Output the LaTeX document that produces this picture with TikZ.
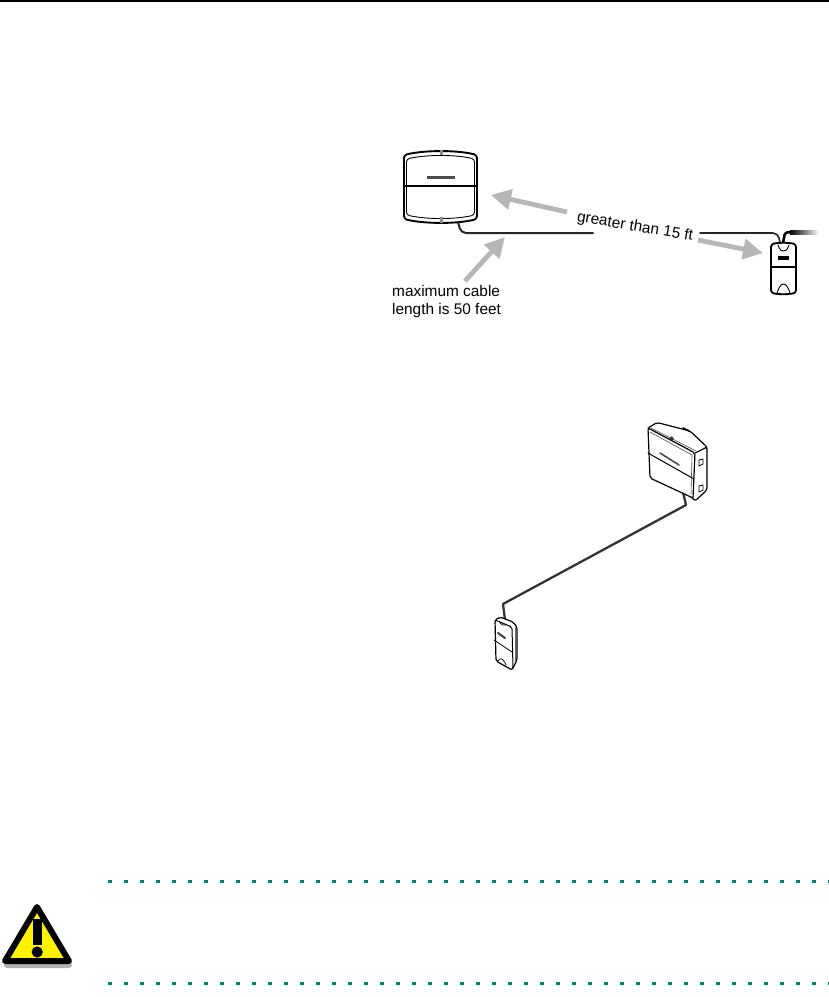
\documentclass[tikz,border=0pt]{standalone}
\usepackage{fontspec}
\setmainfont{Liberation Sans}
\usetikzlibrary{arrows.meta}
\definecolor{teal1}{RGB}{0,128,116}
\definecolor{arrowgray}{RGB}{182,182,182}
\tikzset{
  x=1pt,y=-1pt,
  ink/.style={draw=black,line join=round,line cap=round},
  cable/.style={ink,line width=2pt,draw=black!85},
  callout/.style={draw=arrowgray,line width=4.8pt,-{Triangle[length=20pt,width=20pt,fill=arrowgray]}},
  label/.style={inner sep=0pt,font=\fontsize{15.4}{18}\selectfont,text=black},
  dot/.style={fill=teal1,draw=none},
}
\begin{document}
\begin{tikzpicture}
\useasboundingbox (0,0) rectangle (829,997);
\fill[black] (0,0) rectangle (829,1.6);

% --- plan view: coordinates
\coordinate (panelcable) at (458,222);
\coordinate (cableA) at (593,233);
\coordinate (cableB) at (700,233);
\coordinate (readercable) at (780,243);
\coordinate (a1s) at (567,212); \coordinate (a1t) at (491,195);
\coordinate (a2s) at (698,240); \coordinate (a2t) at (763,253);
\coordinate (a3s) at (465,281); \coordinate (a3t) at (505,237);

% panel (plan)
\draw[ink,line width=1.9pt,fill=white,rounded corners=3pt]
  (404,155) .. controls (425,150) and (457,150) .. (477,155) -- (477,219)
  .. controls (457,224) and (425,224) .. (404,219) -- cycle;
\draw[ink,line width=.9pt,rounded corners=3pt]
  (406.5,159) .. controls (427,154.5) and (455,154.5) .. (474.5,159) -- (474.5,215)
  .. controls (455,219.5) and (427,219.5) .. (406.5,215) -- cycle;
\draw[ink,line width=1.9pt] (404,186) -- (477,186);
\fill[black!70] (427,176) rectangle (455,179);
\fill[black!45] (440,149.5) rectangle (443,155);
\fill[black!45] (440,217) rectangle (443,223);

% cable (plan)
\draw[cable,rounded corners=5pt] (panelcable) -- (461,233) -- (cableA);
\draw[cable,line width=1.6pt,rounded corners=5pt] (cableB) -- (778,233) -- (readercable);
\shade[left color=black,right color=white,draw=none] (790,230) rectangle (819,234.2);
\draw[ink,line width=2.6pt,rounded corners=3pt] (783,243) -- (785,232.2) -- (790,232.2);

% reader (plan)
\draw[ink,line width=1.8pt,fill=white,rounded corners=3pt] (771,244) .. controls (780,242.5) and (787,242.5) .. (796,244) -- (796,293) .. controls (787,294.5) and (780,294.5) .. (771,293) -- cycle;
\draw[ink,line width=1.2pt] (771,267) -- (796,267);
\fill[black] (778,256) rectangle (789,259.5);
\draw[ink,line width=.9pt] (778,245) .. controls (780,251) and (782,251) .. (783.5,251) .. controls (785,251) and (787,251) .. (789,245);
\draw[ink,line width=.9pt] (777,293) .. controls (779,287) and (781,284) .. (783.5,284) .. controls (786,284) and (788,287) .. (790,293);

% callouts
\draw[callout] (a1s) -- (a1t);
\draw[callout] (a2s) -- (a2t);
\draw[callout] (a3s) -- (a3t);
\node[label,rotate=-9.5] (gt) at (635,227) {greater than 15 ft};
\node[label,anchor=north west,align=left] (maxlen) at (392,285) {maximum cable\\length is 50 feet};

% --- perspective view: coordinates
\coordinate (p1) at (683,492);
\coordinate (p2) at (686,505);
\coordinate (p3) at (503,604);
\coordinate (p4) at (505,620);

\draw[ink,line width=2.3pt,draw=black!80] (p1) -- (p2) -- (p3) -- (p4);

% panel (perspective)
\draw[ink,line width=1.2pt,fill=white,rounded corners=2pt]
  (648,428) -- (657,422.5) -- (690,431) -- (707,447) -- (707,490) -- (695,501) -- (693,498) -- (650,478) -- cycle;
\draw[ink,line width=1.2pt,rounded corners=2pt] (648,428) -- (695,453) -- (693,498);
\draw[ink,line width=1.1pt] (695,453) -- (707,447);
\draw[ink,line width=.6pt,draw=black!70] (650,432) -- (692,455) -- (691,494);
\draw[ink,line width=.6pt,draw=black!70] (651,428) -- (696,451);
\draw[ink,line width=1pt] (648,453) -- (694,479);
\draw[ink,line width=1.6pt,draw=black!70] (660,453) -- (679,465);
\fill[black!80] (671.5,438.5) circle (2);
\draw[ink,line width=.8pt,fill=white] (699,460) -- (703,459) -- (703,464) -- (699,466) -- cycle;
\draw[ink,line width=.8pt,fill=white] (699,486) -- (703,485) -- (703,490) -- (699,492) -- cycle;
\draw[ink,line width=1.6pt] (683,428) -- (689,431);

% reader (perspective)
\draw[ink,line width=1.2pt,fill=white,rounded corners=2pt]
  (495,620) -- (500,617) -- (513,622) -- (517,627) -- (517,660) -- (512,670) -- (496,661) -- cycle;
\draw[ink,line width=1pt,rounded corners=2pt] (495,620) -- (512,627) -- (513,668);
\draw[ink,line width=.8pt] (494,640) -- (512,652);
\draw[ink,line width=2.2pt,draw=black!70] (498,633) -- (505,638);
\draw[ink,line width=.7pt] (499,621) .. controls (501,625) and (504,626) .. (506,625);
\draw[ink,line width=.7pt] (498,661) .. controls (500,657) and (503,658) .. (506,665);
\draw[ink,line width=.6pt,draw=black!60] (515,628) -- (515,662);

% --- warning rules
\foreach \xx in {0,...,45}{
  \fill[dot] ({108+16*\xx},879.5) rectangle +(4,3);
  \fill[dot] ({108+16*\xx},982) rectangle +(4,3);
}

% warning icon
\fill[black!30,rounded corners=3pt] (4,962) rectangle (72,968);
\draw[black,line width=6pt,line join=round,fill=yellow] (37,907) -- (5,961) -- (69,961) -- cycle;
\fill[black] (33,919) rectangle (42,945);
\fill[black] (37.2,952) circle (5.6);
\end{tikzpicture}
\end{document}
